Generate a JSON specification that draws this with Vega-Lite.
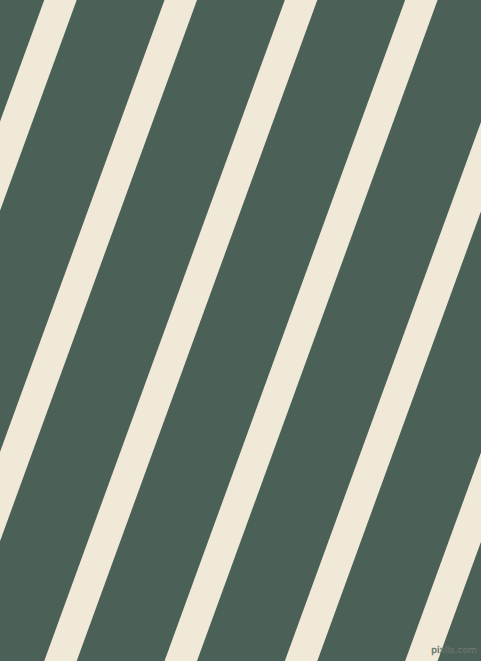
{
  "$schema": "https://vega.github.io/schema/vega-lite/v6.json",
  "width": 481,
  "height": 661,
  "autosize": {"type": "fit", "contains": "padding"},
  "padding": 0,
  "background": "#4b6056",
  "config": {"view": {"stroke": null}},
  "datasets": {
    "stripes": [
      {"x": -38.0, "y": -60, "x2": -321.9, "y2": 720},
      {"x": 82.3, "y": -60, "x2": -201.6, "y2": 720},
      {"x": 202.6, "y": -60, "x2": -81.3, "y2": 720},
      {"x": 322.9, "y": -60, "x2": 39.0, "y2": 720},
      {"x": 443.2, "y": -60, "x2": 159.3, "y2": 720},
      {"x": 563.5, "y": -60, "x2": 279.6, "y2": 720},
      {"x": 683.8, "y": -60, "x2": 399.9, "y2": 720},
      {"x": 804.1, "y": -60, "x2": 520.2, "y2": 720}
    ],
    "mark": [
      {"x": 454, "y": 650, "label": "pixlis.com"}
    ]
  },
  "layer": [
    {
      "data": {"name": "stripes"},
      "mark": {"type": "rule", "color": "#f1e9d7", "strokeWidth": 30.5, "strokeCap": "butt", "clip": true},
      "encoding": {
        "x": {"field": "x", "type": "quantitative", "scale": {"domain": [0, 481], "nice": false, "zero": false}, "axis": null},
        "y": {"field": "y", "type": "quantitative", "scale": {"domain": [0, 661], "nice": false, "zero": false, "reverse": true}, "axis": null},
        "x2": {"field": "x2"},
        "y2": {"field": "y2"}
      }
    },
    {
      "data": {"name": "mark"},
      "mark": {"type": "text", "fontSize": 9, "font": "DejaVu Sans", "color": "#5c6862", "stroke": "#6e7a73", "strokeWidth": 0.4},
      "encoding": {
        "x": {"field": "x", "type": "quantitative"},
        "y": {"field": "y", "type": "quantitative"},
        "text": {"field": "label"}
      }
    }
  ]
}
